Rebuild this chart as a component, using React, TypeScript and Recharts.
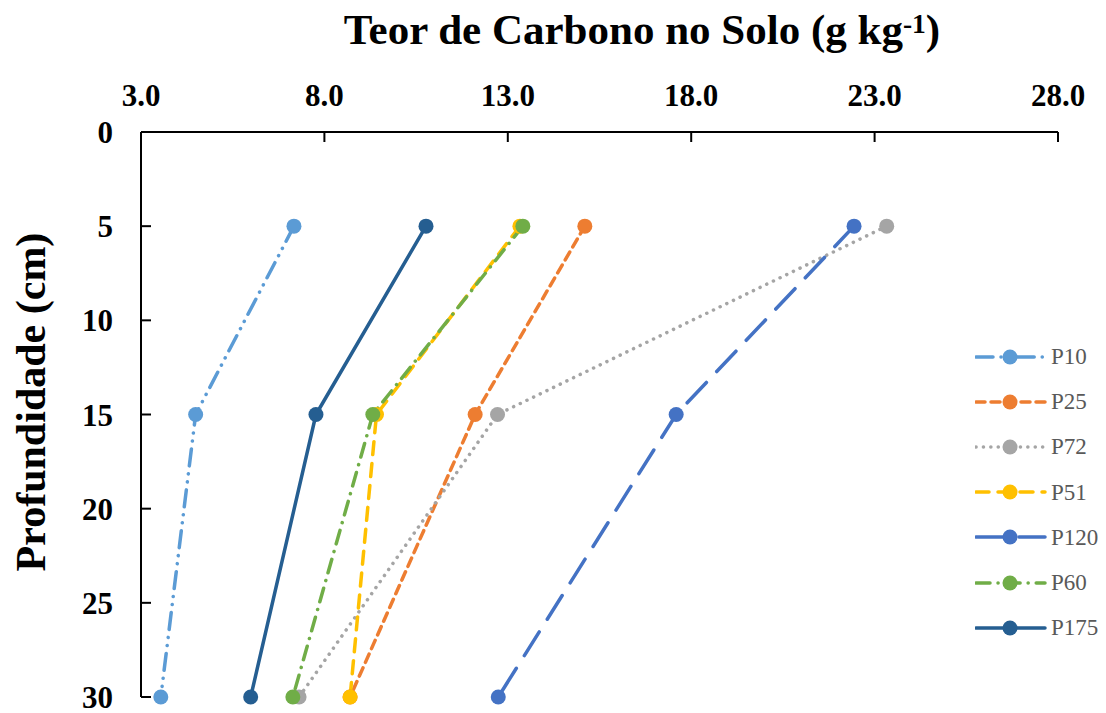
import { LineChart, Line, XAxis, YAxis } from 'recharts'

// profundidade (cm) de cada amostra
const depths = [5, 15, 30]

// teor de carbono (g kg-1) por área, na ordem das profundidades
const p10 = [7.17, 4.49, 3.54]
const p25 = [15.1, 12.11, 8.7]
const p72 = [23.33, 12.72, 7.31]
const p51 = [13.33, 9.42, 8.7]
const p120 = [22.44, 17.59, 12.74]
const p60 = [13.41, 9.32, 7.14]
const p175 = [10.77, 7.77, 5.99]

const xTicks = [3, 8, 13, 18, 23, 28]
const yTicks = [0, 5, 10, 15, 20, 25, 30]

const SERIES = [
  { key: 'P10', values: p10, color: '#5B9BD5', dash: '17 8 0.1 8 0.1 8' },
  { key: 'P25', values: p25, color: '#ED7D31', dash: '9 6' },
  { key: 'P72', values: p72, color: '#A5A5A5', dash: '0.1 7.3' },
  { key: 'P51', values: p51, color: '#FFC000', dash: '13 9' },
  { key: 'P120', values: p120, color: '#4472C4', dash: '28 15' },
  { key: 'P60', values: p60, color: '#70AD47', dash: '14 8 0.1 8' },
  { key: 'P175', values: p175, color: '#255E91', dash: undefined as string | undefined }
]

const data = depths.map((depth, i) => {
  const row: Record<string, number> = { depth }
  SERIES.forEach(s => {
    row[s.key] = s.values[i]
  })
  return row
})

const FONT = '"Liberation Serif", "Times New Roman", serif'
const tickStyle = { fill: '#000', fontSize: 31, fontWeight: 700, fontFamily: FONT }

function SeriesLegend() {
  return (
    <div style={{ position: 'absolute', left: 975, top: 334, display: 'flex', flexDirection: 'column' }}>
      {SERIES.map(s => (
        <div key={s.key} style={{ display: 'flex', alignItems: 'center', height: 45.2 }}>
          <svg width={72} height={20} style={{ display: 'block' }}>
            <line
              x1={1}
              y1={10}
              x2={70}
              y2={10}
              stroke={s.color}
              strokeWidth={3.5}
              strokeDasharray={s.dash}
              strokeLinecap="round"
            />
            <circle cx={35} cy={10} r={7.5} fill={s.color} />
          </svg>
          <span style={{ marginLeft: 4, fontFamily: FONT, fontSize: 23, color: '#595959', lineHeight: 1 }}>
            {s.key}
          </span>
        </div>
      ))}
    </div>
  )
}

export default function App() {
  return (
    <div style={{ position: 'absolute', left: 0, top: 0, width: 1106, height: 713, background: '#fff' }}>
      <div
        style={{
          position: 'absolute',
          left: 642,
          top: 8,
          transform: 'translateX(-50%)',
          whiteSpace: 'nowrap',
          fontFamily: FONT,
          fontWeight: 700,
          fontSize: 43,
          lineHeight: 1
        }}
      >
        Teor de Carbono no Solo (g kg
        <span style={{ fontSize: '0.64em', position: 'relative', top: '-0.4em' }}>-1</span>)
      </div>
      <div
        style={{
          position: 'absolute',
          left: 31 - 200,
          top: 402 - 21,
          width: 400,
          height: 42,
          textAlign: 'center',
          transform: 'rotate(-90deg)',
          whiteSpace: 'nowrap',
          fontFamily: FONT,
          fontWeight: 700,
          fontSize: 42,
          lineHeight: 1
        }}
      >
        Profundidade (cm)
      </div>
      <LineChart
        width={1106}
        height={713}
        data={data}
        layout="vertical"
        margin={{ top: 92, right: 48, bottom: 16, left: 81 }}
      >
        <XAxis
          type="number"
          orientation="top"
          domain={[3, 28]}
          ticks={xTicks}
          height={40}
          tickFormatter={(v: number) => v.toFixed(1)}
          tick={tickStyle}
          axisLine={{ stroke: '#000', strokeWidth: 2 }}
          tickLine={{ stroke: '#000', strokeWidth: 2 }}
          tickSize={-10}
          tickMargin={36}
          interval={0}
        />
        <YAxis
          type="number"
          dataKey="depth"
          domain={[0, 30]}
          ticks={yTicks}
          width={60}
          tick={tickStyle}
          axisLine={{ stroke: '#000', strokeWidth: 2 }}
          tickLine={{ stroke: '#000', strokeWidth: 2 }}
          tickSize={-10}
          tickMargin={38}
          interval={0}
        />
        {SERIES.map(s => (
          <Line
            key={s.key}
            dataKey={s.key}
            stroke={s.color}
            strokeWidth={3.5}
            strokeDasharray={s.dash}
            strokeLinecap="round"
            dot={{ r: 7.5, fill: s.color, stroke: 'none' }}
            activeDot={false}
            isAnimationActive={false}
          />
        ))}
      </LineChart>
      <SeriesLegend />
    </div>
  )
}
